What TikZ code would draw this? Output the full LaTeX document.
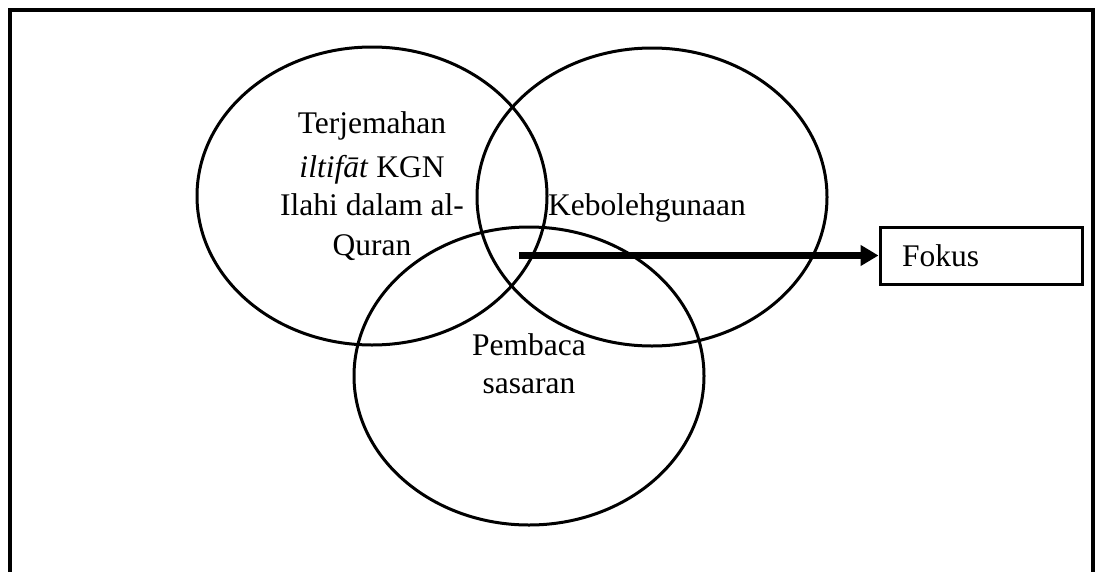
\documentclass[tikz,border=0pt]{standalone}
\usepackage{fontspec}
\setmainfont{Liberation Serif}
\usetikzlibrary{shapes.geometric,arrows.meta}

\tikzset{
  setcircle/.style={ellipse, draw, line width=3pt, inner sep=0pt,
    minimum width=350pt, minimum height=298pt},
  label/.style={anchor=base, inner sep=0pt, font=\fontsize{31.5}{40}\selectfont},
  frame/.style={draw, line width=3.2pt},
  focusbox/.style={draw, line width=3pt, minimum width=202pt, minimum height=57pt,
    text width=158pt, inner xsep=22pt, align=left, font=\fontsize{31.5}{40}\selectfont},
  pointer/.style={line width=7pt, -{Triangle[length=18pt,width=20pt]}}
}

\begin{document}
\begin{tikzpicture}[x=1pt,y=-1pt]
  \useasboundingbox (0,0) rectangle (1100,571);
  \clip (0,0) rectangle (1100,571);
  \fill[white] (0,0) rectangle (1100,571);

  % outer frame
  \draw[frame] (10,10) rectangle (1093,600);

  % the three overlapping sets
  \node[setcircle] (terj) at (372,196) {};
  \node[setcircle] (guna) at (652,197) {};
  \node[setcircle] (baca) at (529,376) {};

  % set labels
  \node[label] (t1) at (372,133) {Terjemahan};
  \node[label] (t2) at (372,177) {\textit{iltifāt} KGN};
  \node[label] (t3) at (372,215) {Ilahi dalam al-};
  \node[label] (t4) at (372,255) {Quran};
  \node[label] (g1) at (647,215) {Kebolehgunaan};
  \node[label] (b1) at (529,355) {Pembaca};
  \node[label] (b2) at (529,393) {sasaran};

  % focus box and arrow into it
  \node[focusbox] (fokus) at (981,255.5) {Fokus};
  \coordinate (overlap) at (519,255.5);
  \draw[pointer] (overlap) -- (fokus.west);
\end{tikzpicture}
\end{document}
